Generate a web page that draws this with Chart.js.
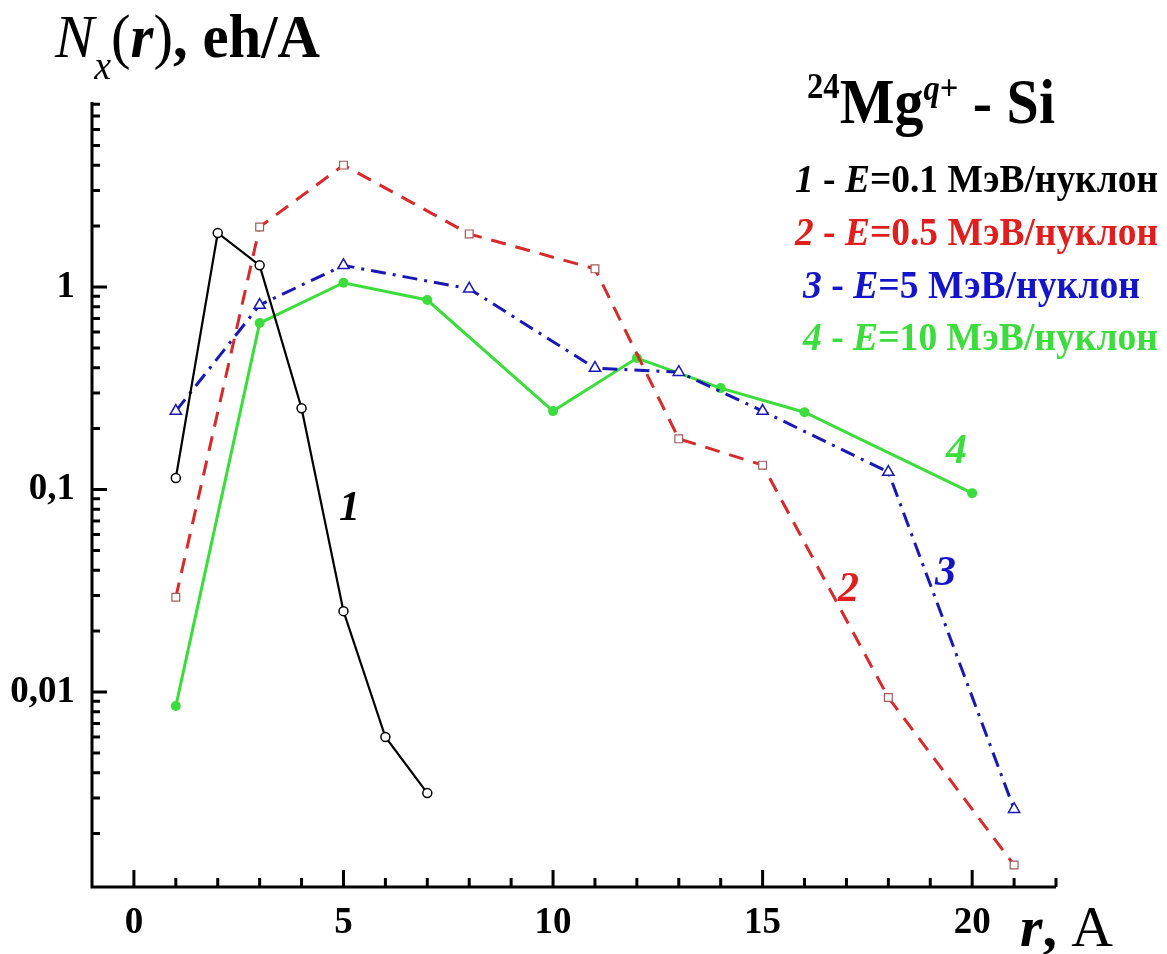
<!DOCTYPE html>
<html>
<head>
<meta charset="utf-8">
<script src="https://cdn.jsdelivr.net/npm/chart.js@4.4.0/dist/chart.umd.min.js"></script>
<style>
  html, body { margin: 0; padding: 0; background: #fff; }
  #wrap { width: 1167px; height: 954px; }
</style>
</head>
<body>
<div id="wrap"><canvas id="chart" width="1167" height="954"></canvas></div>
<script>
// данные
const r1 = [1, 2, 3, 4, 5, 6, 7];
const n1 = [0.114, 1.85, 1.28, 0.252, 0.0251, 0.0060, 0.00317];

const r2 = [1, 3, 5, 8, 11, 13, 15, 18, 21];
const n2 = [0.0294, 1.98, 4.0, 1.83, 1.23, 0.178, 0.132, 0.0094, 0.0014];

const r3 = [1, 3, 5, 8, 11, 13, 15, 18, 21];
const n3 = [0.244, 0.815, 1.28, 0.98, 0.398, 0.38, 0.244, 0.122, 0.00264];

const r4 = [1, 3, 5, 7, 10, 12, 14, 16, 20];
const n4 = [0.00853, 0.664, 1.05, 0.863, 0.244, 0.446, 0.317, 0.241, 0.096];

const curveNums = ['1', '2', '3', '4'];
const energies = ['0.1', '0.5', '5', '10'];
const unitText = ' МэВ/нуклон';

const xTicks = [0, 5, 10, 15, 20];
const yTicks = [0.01, 0.1, 1];
const yTickLabels = ['0,01', '0,1', '1'];

const SERIF = '"Liberation Serif", "Times New Roman", serif';
const lineColors = ['#000000', '#d82a2a', '#1818b4', '#3cdc3c'];
const textColors = ['#000000', '#e01e1e', '#1414c8', '#3cdc3c'];

const pts = (xs, ys) => xs.map((v, i) => ({ x: v, y: ys[i] }));

// рисует строку из кусков разного шрифта, при необходимости сжимая по ширине
function drawRuns(ctx, runs, x, y, width) {
    let total = 0;
    runs.forEach(r => {
        ctx.font = r.font;
        r.w = ctx.measureText(r.t).width;
        total += r.w;
    });
    const sx = width ? width / total : 1;
    ctx.save();
    ctx.translate(x, y);
    ctx.scale(sx, 1);
    ctx.textAlign = 'left';
    ctx.textBaseline = 'alphabetic';
    let cx = 0;
    runs.forEach(r => {
        ctx.font = r.font;
        ctx.fillStyle = r.color;
        ctx.fillText(r.t, cx, r.dy || 0);
        cx += r.w;
    });
    ctx.restore();
}

const axesPlugin = {
    id: 'axes',
    beforeDatasetsDraw(chart) {
        const { ctx, chartArea: a, scales: { x, y } } = chart;
        ctx.save();
        ctx.strokeStyle = '#000';
        ctx.lineWidth = 3;
        ctx.beginPath();
        ctx.moveTo(a.left, a.top);
        ctx.lineTo(a.left, a.bottom);
        ctx.lineTo(a.right, a.bottom);
        ctx.stroke();

        ctx.lineWidth = 3;
        ctx.beginPath();
        for (let d = -3; d <= 0; d++) {
            for (let m = 1; m <= 9; m++) {
                const v = m * Math.pow(10, d);
                if (v < y.min || v > y.max * 1.001) continue;
                const py = y.getPixelForValue(v);
                const len = m === 1 ? 15 : 8;
                ctx.moveTo(a.left, py);
                ctx.lineTo(a.left + len, py);
            }
        }
        for (let v = 0; v <= 22; v++) {
            const px = x.getPixelForValue(v);
            const len = v % 5 === 0 ? 17 : 9;
            ctx.moveTo(px, a.bottom);
            ctx.lineTo(px, a.bottom - len);
        }
        ctx.stroke();
        ctx.restore();
    }
};

const textPlugin = {
    id: 'texts',
    afterDraw(chart) {
        const ctx = chart.ctx;

        // подпись оси Y
        drawRuns(ctx, [
            { t: 'N', font: 'italic 62px ' + SERIF, color: '#000' },
            { t: 'x', font: 'italic 40px ' + SERIF, color: '#000', dy: 22 },
            { t: '(', font: '62px ' + SERIF, color: '#000' },
            { t: 'r', font: 'italic bold 62px ' + SERIF, color: '#000' },
            { t: ')', font: '62px ' + SERIF, color: '#000' },
            { t: ', eh/A', font: 'bold 62px ' + SERIF, color: '#000' }
        ], 55, 57, 265);

        // подпись оси X
        drawRuns(ctx, [
            { t: 'r', font: 'italic bold 58px ' + SERIF, color: '#000' },
            { t: ', ', font: 'bold 58px ' + SERIF, color: '#000' },
            { t: 'A', font: '58px ' + SERIF, color: '#000' }
        ], 1020, 946, 93);

        // заголовок легенды
        drawRuns(ctx, [
            { t: '24', font: 'bold 36px ' + SERIF, color: '#000', dy: -25 },
            { t: 'Mg', font: 'bold 64px ' + SERIF, color: '#000' },
            { t: 'q', font: 'italic bold 36px ' + SERIF, color: '#000', dy: -23 },
            { t: '+', font: 'bold 36px ' + SERIF, color: '#000', dy: -23 },
            { t: ' - Si', font: 'bold 64px ' + SERIF, color: '#000' }
        ], 807, 123, 248);

        // строки легенды
        const legX = [795, 795, 803, 803];
        const legEnd = [1158, 1158, 1140, 1158];
        const legY = [192, 245, 298, 350];
        curveNums.forEach((n, i) => {
            const c = textColors[i];
            drawRuns(ctx, [
                { t: n, font: 'italic bold 41px ' + SERIF, color: c },
                { t: ' - ', font: 'bold 41px ' + SERIF, color: c },
                { t: 'E', font: 'italic bold 41px ' + SERIF, color: c },
                { t: '=' + energies[i] + unitText, font: 'bold 41px ' + SERIF, color: c }
            ], legX[i], legY[i], legEnd[i] - legX[i]);
        });

        // номера кривых
        const numPos = [[339, 520], [838, 601], [935, 585], [946, 463]];
        ctx.save();
        ctx.font = 'italic bold 42px ' + SERIF;
        ctx.textAlign = 'left';
        ctx.textBaseline = 'alphabetic';
        numPos.forEach((p, i) => {
            ctx.fillStyle = textColors[i];
            ctx.fillText(curveNums[i], p[0], p[1]);
        });
        ctx.restore();
    }
};

const ctx = document.getElementById('chart').getContext('2d');

new Chart(ctx, {
    type: 'line',
    data: {
        datasets: [
            {
                data: pts(r1, n1),
                borderColor: lineColors[0],
                borderWidth: 2.2,
                pointStyle: 'circle',
                pointRadius: 4.5,
                pointBorderWidth: 1.5,
                pointBorderColor: '#000',
                pointBackgroundColor: '#fff'
            },
            {
                data: pts(r2, n2),
                borderColor: lineColors[1],
                borderWidth: 3,
                borderDash: [15, 10],
                pointStyle: 'rect',
                pointRadius: 5.5,
                pointBorderWidth: 1.2,
                pointBorderColor: '#a05a5a',
                pointBackgroundColor: '#fff'
            },
            {
                data: pts(r3, n3),
                borderColor: lineColors[2],
                borderWidth: 3,
                borderDash: [15, 7, 3, 7],
                pointStyle: 'triangle',
                pointRadius: 6.5,
                pointBorderWidth: 1.5,
                pointBorderColor: lineColors[2],
                pointBackgroundColor: '#fff'
            },
            {
                data: pts(r4, n4),
                borderColor: lineColors[3],
                borderWidth: 3,
                pointStyle: 'circle',
                pointRadius: 5,
                pointBorderWidth: 0,
                pointBorderColor: lineColors[3],
                pointBackgroundColor: lineColors[3]
            }
        ]
    },
    options: {
        responsive: false,
        devicePixelRatio: 1,
        animation: false,
        layout: { padding: { top: 102, right: 111, left: 0, bottom: 0 } },
        elements: { line: { tension: 0, fill: false } },
        plugins: {
            legend: { display: false },
            tooltip: { enabled: false }
        },
        scales: {
            x: {
                type: 'linear',
                min: -1,
                max: 22,
                grid: { display: false, drawTicks: false },
                border: { display: false },
                afterFit: s => { s.height = 67; },
                afterBuildTicks: s => { s.ticks = xTicks.map(v => ({ value: v })); },
                ticks: {
                    autoSkip: false,
                    maxRotation: 0,
                    padding: 14,
                    color: '#000',
                    font: { family: SERIF, weight: 'bold', size: 37 },
                    callback: v => String(v)
                }
            },
            y: {
                type: 'logarithmic',
                min: 0.00109,
                max: 8.2,
                grid: { display: false, drawTicks: false },
                border: { display: false },
                afterFit: s => { s.width = 92; },
                afterBuildTicks: s => { s.ticks = yTicks.map(v => ({ value: v })); },
                ticks: {
                    autoSkip: false,
                    padding: 17,
                    color: '#000',
                    font: { family: SERIF, weight: 'bold', size: 37 },
                    callback: v => {
                        const i = yTicks.findIndex(t => Math.abs(t - v) / t < 1e-6);
                        return i >= 0 ? yTickLabels[i] : '';
                    }
                }
            }
        }
    },
    plugins: [axesPlugin, textPlugin]
});
</script>
</body>
</html>
